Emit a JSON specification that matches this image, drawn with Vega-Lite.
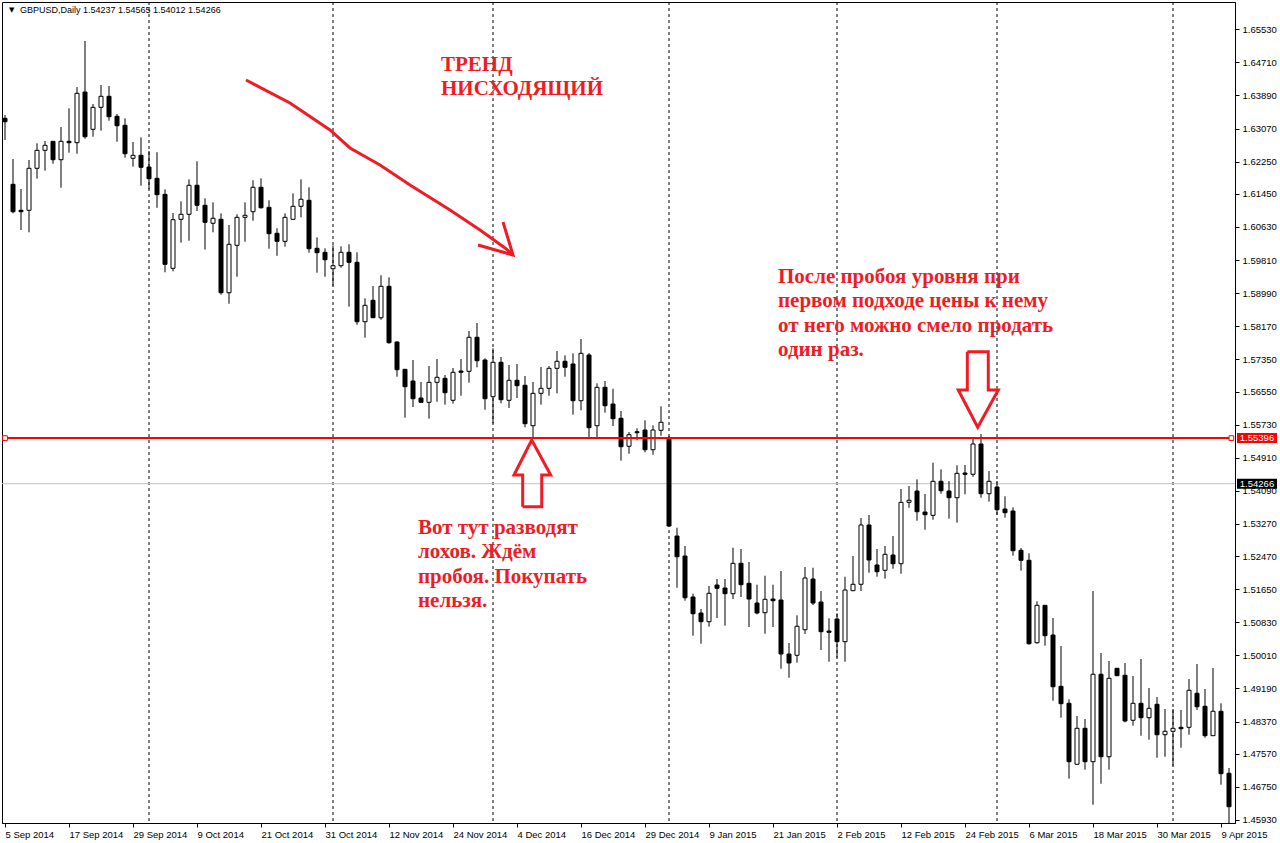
{
  "$schema": "https://vega.github.io/schema/vega-lite/v6.json",
  "autosize": "none",
  "width": 1233,
  "height": 821,
  "padding": {"left": 2, "top": 2, "right": 45, "bottom": 20},
  "background": "white",
  "config": {
    "view": {"stroke": "#000000", "strokeWidth": 1},
    "scale": {"continuousPadding": 0},
    "axis": {"grid": false, "title": null, "labelFont": "Liberation Sans", "labelFontSize": 9.5, "labelColor": "#000000", "tickColor": "#000000", "domainColor": "#000000", "labelOverlap": false, "labelBound": false, "labelFlush": false}
  },
  "datasets": {
    "candles": [
      {"n":0,"o":1.63323,"h":1.63405,"l":1.62786,"c":1.63239},
      {"n":1,"o":1.61687,"h":1.62315,"l":1.60968,"c":1.61008},
      {"n":2,"o":1.61043,"h":1.61571,"l":1.60555,"c":1.61008},
      {"n":3,"o":1.61043,"h":1.62290,"l":1.60497,"c":1.62084},
      {"n":4,"o":1.62084,"h":1.62704,"l":1.61826,"c":1.62530},
      {"n":5,"o":1.62530,"h":1.62761,"l":1.62025,"c":1.62654},
      {"n":6,"o":1.62753,"h":1.62761,"l":1.62198,"c":1.62297},
      {"n":7,"o":1.62297,"h":1.63108,"l":1.61603,"c":1.62753},
      {"n":8,"o":1.62753,"h":1.63571,"l":1.62471,"c":1.62719},
      {"n":9,"o":1.62719,"h":1.64099,"l":1.62446,"c":1.63943},
      {"n":10,"o":1.63975,"h":1.65240,"l":1.62818,"c":1.62867},
      {"n":11,"o":1.63051,"h":1.63678,"l":1.62867,"c":1.63596},
      {"n":12,"o":1.63596,"h":1.64149,"l":1.63016,"c":1.63869},
      {"n":13,"o":1.63869,"h":1.64124,"l":1.63264,"c":1.63363},
      {"n":14,"o":1.63373,"h":1.63430,"l":1.62743,"c":1.63140},
      {"n":15,"o":1.63150,"h":1.63323,"l":1.62347,"c":1.62446},
      {"n":16,"o":1.62332,"h":1.62736,"l":1.62124,"c":1.62406},
      {"n":17,"o":1.62406,"h":1.62852,"l":1.61653,"c":1.62109},
      {"n":18,"o":1.62116,"h":1.62513,"l":1.61563,"c":1.61826},
      {"n":19,"o":1.61836,"h":1.62481,"l":1.61107,"c":1.61430},
      {"n":20,"o":1.61439,"h":1.61563,"l":1.59506,"c":1.59704},
      {"n":21,"o":1.59605,"h":1.60976,"l":1.59531,"c":1.60810},
      {"n":22,"o":1.60820,"h":1.61266,"l":1.60240,"c":1.60944},
      {"n":23,"o":1.60944,"h":1.61811,"l":1.60289,"c":1.61663},
      {"n":24,"o":1.61663,"h":1.62258,"l":1.61026,"c":1.61167},
      {"n":25,"o":1.61167,"h":1.61340,"l":1.60071,"c":1.60745},
      {"n":26,"o":1.60721,"h":1.61241,"l":1.60497,"c":1.60845},
      {"n":27,"o":1.60820,"h":1.60968,"l":1.58951,"c":1.59000},
      {"n":28,"o":1.59000,"h":1.60678,"l":1.58728,"c":1.60200},
      {"n":29,"o":1.60175,"h":1.60944,"l":1.59397,"c":1.60869},
      {"n":30,"o":1.60869,"h":1.61241,"l":1.60264,"c":1.60919},
      {"n":31,"o":1.61008,"h":1.61787,"l":1.60785,"c":1.61613},
      {"n":32,"o":1.61613,"h":1.61836,"l":1.61083,"c":1.61107},
      {"n":33,"o":1.61117,"h":1.61291,"l":1.60091,"c":1.60463},
      {"n":34,"o":1.60473,"h":1.60597,"l":1.59917,"c":1.60274},
      {"n":35,"o":1.60274,"h":1.60968,"l":1.60141,"c":1.60869},
      {"n":36,"o":1.60820,"h":1.61464,"l":1.60820,"c":1.61142},
      {"n":37,"o":1.61142,"h":1.61811,"l":1.60869,"c":1.61316},
      {"n":38,"o":1.61291,"h":1.61613,"l":1.59992,"c":1.60091},
      {"n":39,"o":1.60101,"h":1.60374,"l":1.59496,"c":1.59992},
      {"n":40,"o":1.60002,"h":1.60101,"l":1.59397,"c":1.59818},
      {"n":41,"o":1.59595,"h":1.60175,"l":1.59174,"c":1.59670},
      {"n":42,"o":1.59670,"h":1.60150,"l":1.59620,"c":1.60002},
      {"n":43,"o":1.60002,"h":1.60200,"l":1.58653,"c":1.59754},
      {"n":44,"o":1.59754,"h":1.60002,"l":1.58207,"c":1.58281},
      {"n":45,"o":1.58281,"h":1.58861,"l":1.57885,"c":1.58688},
      {"n":46,"o":1.58812,"h":1.59166,"l":1.58380,"c":1.58380},
      {"n":47,"o":1.58380,"h":1.59432,"l":1.58331,"c":1.59159},
      {"n":48,"o":1.59159,"h":1.59382,"l":1.57736,"c":1.57761},
      {"n":49,"o":1.57778,"h":1.57795,"l":1.56918,"c":1.57091},
      {"n":50,"o":1.57101,"h":1.57109,"l":1.55902,"c":1.56670},
      {"n":51,"o":1.56811,"h":1.57332,"l":1.56167,"c":1.56373},
      {"n":52,"o":1.56390,"h":1.56787,"l":1.56283,"c":1.56283},
      {"n":53,"o":1.56283,"h":1.57183,"l":1.55877,"c":1.56779},
      {"n":54,"o":1.56779,"h":1.57357,"l":1.56298,"c":1.56903},
      {"n":55,"o":1.56878,"h":1.56960,"l":1.56224,"c":1.56521},
      {"n":56,"o":1.56333,"h":1.57134,"l":1.56249,"c":1.57027},
      {"n":57,"o":1.57059,"h":1.57357,"l":1.56447,"c":1.57027},
      {"n":58,"o":1.57052,"h":1.58051,"l":1.56769,"c":1.57895},
      {"n":59,"o":1.57895,"h":1.58249,"l":1.57151,"c":1.57315},
      {"n":60,"o":1.57332,"h":1.57374,"l":1.56100,"c":1.56373},
      {"n":61,"o":1.56422,"h":1.57622,"l":1.55763,"c":1.57275},
      {"n":62,"o":1.57275,"h":1.57406,"l":1.56259,"c":1.56348},
      {"n":63,"o":1.56333,"h":1.57208,"l":1.56142,"c":1.56829},
      {"n":64,"o":1.56829,"h":1.57233,"l":1.56390,"c":1.56695},
      {"n":65,"o":1.56705,"h":1.56935,"l":1.55664,"c":1.55753},
      {"n":66,"o":1.55703,"h":1.56787,"l":1.55406,"c":1.56506},
      {"n":67,"o":1.56506,"h":1.57159,"l":1.56224,"c":1.56630},
      {"n":68,"o":1.56630,"h":1.57183,"l":1.56447,"c":1.57126},
      {"n":69,"o":1.57126,"h":1.57555,"l":1.56506,"c":1.57300},
      {"n":70,"o":1.57300,"h":1.57448,"l":1.56918,"c":1.57151},
      {"n":71,"o":1.57233,"h":1.57498,"l":1.55976,"c":1.56323},
      {"n":72,"o":1.56323,"h":1.57852,"l":1.56085,"c":1.57498},
      {"n":73,"o":1.57456,"h":1.57505,"l":1.55406,"c":1.55654},
      {"n":74,"o":1.55703,"h":1.56754,"l":1.55406,"c":1.56655},
      {"n":75,"o":1.56655,"h":1.56811,"l":1.56026,"c":1.56199},
      {"n":76,"o":1.56241,"h":1.56620,"l":1.55696,"c":1.55877},
      {"n":77,"o":1.55887,"h":1.56068,"l":1.54836,"c":1.55183},
      {"n":78,"o":1.55193,"h":1.55547,"l":1.55009,"c":1.55480},
      {"n":79,"o":1.55554,"h":1.55639,"l":1.55341,"c":1.55530},
      {"n":80,"o":1.55597,"h":1.55837,"l":1.55044,"c":1.55108},
      {"n":81,"o":1.55108,"h":1.55713,"l":1.54984,"c":1.55597},
      {"n":82,"o":1.55589,"h":1.56184,"l":1.55455,"c":1.55788},
      {"n":83,"o":1.55391,"h":1.55448,"l":1.53204,"c":1.53217},
      {"n":84,"o":1.52969,"h":1.53175,"l":1.51687,"c":1.52456},
      {"n":85,"o":1.52473,"h":1.52721,"l":1.51365,"c":1.51439},
      {"n":86,"o":1.51457,"h":1.51539,"l":1.50498,"c":1.51043},
      {"n":87,"o":1.51060,"h":1.51159,"l":1.50299,"c":1.50845},
      {"n":88,"o":1.50845,"h":1.51730,"l":1.50721,"c":1.51549},
      {"n":89,"o":1.51754,"h":1.51903,"l":1.50936,"c":1.51673},
      {"n":90,"o":1.51680,"h":1.51903,"l":1.50746,"c":1.51539},
      {"n":91,"o":1.51539,"h":1.52679,"l":1.51407,"c":1.52292},
      {"n":92,"o":1.52292,"h":1.52647,"l":1.51457,"c":1.51762},
      {"n":93,"o":1.51796,"h":1.52324,"l":1.50713,"c":1.51407},
      {"n":94,"o":1.51308,"h":1.51762,"l":1.51028,"c":1.51060},
      {"n":95,"o":1.51068,"h":1.51985,"l":1.50547,"c":1.51400},
      {"n":96,"o":1.51407,"h":1.51762,"l":1.50713,"c":1.51365},
      {"n":97,"o":1.51382,"h":1.52101,"l":1.49679,"c":1.50044},
      {"n":98,"o":1.50044,"h":1.50317,"l":1.49456,"c":1.49821},
      {"n":99,"o":1.50012,"h":1.51003,"l":1.49828,"c":1.50731},
      {"n":100,"o":1.50646,"h":1.52201,"l":1.50540,"c":1.51928},
      {"n":101,"o":1.51903,"h":1.52183,"l":1.51259,"c":1.51308},
      {"n":102,"o":1.51333,"h":1.51606,"l":1.50143,"c":1.50597},
      {"n":103,"o":1.50614,"h":1.50929,"l":1.49853,"c":1.50582},
      {"n":104,"o":1.50911,"h":1.51053,"l":1.49952,"c":1.50349},
      {"n":105,"o":1.50349,"h":1.51960,"l":1.49853,"c":1.51630},
      {"n":106,"o":1.51613,"h":1.52473,"l":1.51606,"c":1.51772},
      {"n":107,"o":1.51772,"h":1.53415,"l":1.51606,"c":1.53242},
      {"n":108,"o":1.53242,"h":1.53490,"l":1.52059,"c":1.52374},
      {"n":109,"o":1.52250,"h":1.52647,"l":1.51960,"c":1.52084},
      {"n":110,"o":1.52119,"h":1.52721,"l":1.51910,"c":1.52515},
      {"n":111,"o":1.52498,"h":1.52969,"l":1.52158,"c":1.52282},
      {"n":112,"o":1.52282,"h":1.54134,"l":1.52034,"c":1.53804},
      {"n":113,"o":1.53804,"h":1.54208,"l":1.53670,"c":1.53854},
      {"n":114,"o":1.54084,"h":1.54374,"l":1.53348,"c":1.53571},
      {"n":115,"o":1.53564,"h":1.54010,"l":1.53125,"c":1.53497},
      {"n":116,"o":1.53482,"h":1.54786,"l":1.53373,"c":1.54325},
      {"n":117,"o":1.54325,"h":1.54622,"l":1.54018,"c":1.54092},
      {"n":118,"o":1.54084,"h":1.54332,"l":1.53398,"c":1.53918},
      {"n":119,"o":1.53918,"h":1.54722,"l":1.53299,"c":1.54523},
      {"n":120,"o":1.54531,"h":1.54729,"l":1.54003,"c":1.54499},
      {"n":121,"o":1.54499,"h":1.55391,"l":1.54439,"c":1.55250},
      {"n":122,"o":1.55250,"h":1.55497,"l":1.53918,"c":1.54018},
      {"n":123,"o":1.54018,"h":1.54580,"l":1.53820,"c":1.54325},
      {"n":124,"o":1.54184,"h":1.54332,"l":1.53497,"c":1.53621},
      {"n":125,"o":1.53638,"h":1.53953,"l":1.53423,"c":1.53547},
      {"n":126,"o":1.53589,"h":1.53680,"l":1.52481,"c":1.52605},
      {"n":127,"o":1.52615,"h":1.52672,"l":1.52109,"c":1.52367},
      {"n":128,"o":1.52367,"h":1.52540,"l":1.50275,"c":1.50299},
      {"n":129,"o":1.50324,"h":1.51350,"l":1.50299,"c":1.51251},
      {"n":130,"o":1.51251,"h":1.51251,"l":1.50250,"c":1.50498},
      {"n":131,"o":1.50515,"h":1.50936,"l":1.48886,"c":1.49233},
      {"n":132,"o":1.49243,"h":1.50242,"l":1.48465,"c":1.48812},
      {"n":133,"o":1.48822,"h":1.48921,"l":1.46953,"c":1.47374},
      {"n":134,"o":1.47310,"h":1.48507,"l":1.47310,"c":1.48202},
      {"n":135,"o":1.48202,"h":1.48433,"l":1.47176,"c":1.47374},
      {"n":136,"o":1.47374,"h":1.51606,"l":1.46308,"c":1.49541},
      {"n":137,"o":1.49541,"h":1.50069,"l":1.46829,"c":1.47498},
      {"n":138,"o":1.47498,"h":1.49871,"l":1.47176,"c":1.49442},
      {"n":139,"o":1.49690,"h":1.49697,"l":1.49499,"c":1.49506},
      {"n":140,"o":1.49516,"h":1.49821,"l":1.48351,"c":1.48383},
      {"n":141,"o":1.48401,"h":1.49499,"l":1.48267,"c":1.48822},
      {"n":142,"o":1.48822,"h":1.49920,"l":1.48019,"c":1.48465},
      {"n":143,"o":1.48465,"h":1.49201,"l":1.47920,"c":1.48698},
      {"n":144,"o":1.48797,"h":1.48978,"l":1.47473,"c":1.48043},
      {"n":145,"o":1.48043,"h":1.48680,"l":1.47498,"c":1.48128},
      {"n":146,"o":1.48128,"h":1.48680,"l":1.47275,"c":1.48202},
      {"n":147,"o":1.48227,"h":1.48656,"l":1.47721,"c":1.48192},
      {"n":148,"o":1.48227,"h":1.49424,"l":1.48043,"c":1.49144},
      {"n":149,"o":1.49070,"h":1.49796,"l":1.48656,"c":1.48738},
      {"n":150,"o":1.48748,"h":1.49176,"l":1.47969,"c":1.48019},
      {"n":151,"o":1.48019,"h":1.49697,"l":1.48019,"c":1.48624},
      {"n":152,"o":1.48624,"h":1.48822,"l":1.46804,"c":1.47077},
      {"n":153,"o":1.47087,"h":1.47218,"l":1.45800,"c":1.46259}
    ],
    "seps": [{"n":18},{"n":41},{"n":61},{"n":83},{"n":104},{"n":124},{"n":146}],
    "levels": [
      {"kind":"bid","p":1.54266,"label":"1.54266"},
      {"kind":"level","p":1.55396,"label":"1.55396"}
    ],
    "drawings": [
      {"g":"trend","k":0,"n":30.125,"p":1.64273},
      {"g":"trend","k":1,"n":35.625,"p":1.63703},
      {"g":"trend","k":2,"n":40.625,"p":1.63034},
      {"g":"trend","k":3,"n":43.125,"p":1.62588},
      {"g":"trend","k":4,"n":46.875,"p":1.62166},
      {"g":"trend","k":5,"n":50.625,"p":1.61670},
      {"g":"trend","k":6,"n":55.625,"p":1.61051},
      {"g":"trend","k":7,"n":59.375,"p":1.60555},
      {"g":"trend","k":8,"n":62.5,"p":1.60109},
      {"g":"trend","k":9,"n":63.5,"p":1.59935},
      {"g":"head","k":0,"n":62.25,"p":1.60753},
      {"g":"head","k":1,"n":63.5,"p":1.59935},
      {"g":"head","k":2,"n":59.125,"p":1.60183},
      {"g":"up","k":0,"n":64.71,"p":1.53696},
      {"g":"up","k":1,"n":67.09,"p":1.53696},
      {"g":"up","k":2,"n":67.09,"p":1.54481},
      {"g":"up","k":3,"n":68.21,"p":1.54481},
      {"g":"up","k":4,"n":65.84,"p":1.55349},
      {"g":"up","k":5,"n":63.625,"p":1.54481},
      {"g":"up","k":6,"n":64.71,"p":1.54481},
      {"g":"up","k":7,"n":64.71,"p":1.53696},
      {"g":"down","k":0,"n":120.29,"p":1.57538},
      {"g":"down","k":1,"n":122.91,"p":1.57538},
      {"g":"down","k":2,"n":122.91,"p":1.56589},
      {"g":"down","k":3,"n":124.16,"p":1.56589},
      {"g":"down","k":4,"n":121.59,"p":1.55664},
      {"g":"down","k":5,"n":119.16,"p":1.56589},
      {"g":"down","k":6,"n":120.29,"p":1.56589},
      {"g":"down","k":7,"n":120.29,"p":1.57538}
    ],
    "notes": [
      {"n":54.5,"p":1.64496,"t":"ТРЕНД"},
      {"n":54.5,"p":1.63901,"t":"НИСХОДЯЩИЙ"},
      {"n":96.625,"p":1.59241,"t":"После пробоя уровня при"},
      {"n":96.625,"p":1.58646,"t":"первом подходе цены к нему"},
      {"n":96.625,"p":1.58026,"t":"от него можно смело продать"},
      {"n":96.625,"p":1.57431,"t":"один раз."},
      {"n":51.625,"p":1.53019,"t":"Вот тут разводят"},
      {"n":51.625,"p":1.52424,"t":"лохов. Ждём"},
      {"n":51.625,"p":1.51804,"t":"пробоя. Покупать"},
      {"n":51.625,"p":1.51209,"t":"нельзя."}
    ],
    "header": [{"t":"GBPUSD,Daily  1.54237 1.54565 1.54012 1.54266"}]
  },
  "encoding": {
    "x": {"type": "quantitative",
      "scale": {"domain": [-0.375, 153.75], "zero": false, "nice": false, "padding": 0},
      "axis": {"orient": "bottom", "values": [0,8,16,24,32,40,48,56,64,72,80,88,96,104,112,120,128,136,144,152],
        "labelExpr": "['5 Sep 2014','17 Sep 2014','29 Sep 2014','9 Oct 2014','21 Oct 2014','31 Oct 2014','12 Nov 2014','24 Nov 2014','4 Dec 2014','16 Dec 2014','29 Dec 2014','9 Jan 2015','21 Jan 2015','2 Feb 2015','12 Feb 2015','24 Feb 2015','6 Mar 2015','18 Mar 2015','30 Mar 2015','9 Apr 2015'][round(datum.value/8)]",
        "labelAlign": "left", "labelPadding": 2, "tickSize": 4, "labelOverlap": false, "labelFlush": false, "labelBound": false}
    },
    "y": {"type": "quantitative",
      "scale": {"domain": [1.458547, 1.662067], "zero": false, "nice": false, "padding": 0},
      "axis": {"orient": "right", "values": [1.6553,1.6471,1.6389,1.6307,1.6225,1.6145,1.6063,1.5981,1.5899,1.5817,1.5735,1.5655,1.5573,1.5491,1.5409,1.5327,1.5247,1.5165,1.5083,1.5001,1.4919,1.4837,1.4757,1.4675,1.4593],
        "format": ".5f", "tickSize": 4, "labelPadding": 3, "labelOverlap": false, "labelBound": false}
    }
  },
  "layer": [
    {
      "data": {"name": "seps"},
      "mark": {"type": "rule", "color": "#000000", "strokeWidth": 1, "strokeDash": [3, 3]},
      "encoding": {"x": {"field": "n"}, "y": null}
    },
    {
      "data": {"name": "levels"},
      "transform": [{"filter": "datum.kind === 'bid'"}],
      "mark": {"type": "rule", "color": "#c0c0c0", "strokeWidth": 1},
      "encoding": {"y": {"field": "p"}, "x": null}
    },
    {
      "data": {"name": "candles"},
      "mark": {"type": "rule", "color": "#000000", "strokeWidth": 1, "clip": true},
      "encoding": {
        "x": {"field": "n"},
        "y": {"field": "l"},
        "y2": {"field": "h"}
      }
    },
    {
      "data": {"name": "candles"},
      "mark": {"type": "bar", "size": 4, "stroke": "#000000", "strokeWidth": 1, "clip": true},
      "encoding": {
        "x": {"field": "n"},
        "y": {"field": "o"},
        "y2": {"field": "c"},
        "fill": {"condition": {"test": "datum.c < datum.o", "value": "#000000"}, "value": "#ffffff"}
      }
    },
    {
      "data": {"name": "levels"},
      "transform": [{"filter": "datum.kind === 'level'"}],
      "mark": {"type": "rule", "color": "#ff0000", "strokeWidth": 2},
      "encoding": {"y": {"field": "p"}, "x": {"datum": 0}, "x2": {"datum": 153.3}}
    },
    {
      "data": {"name": "levels"},
      "transform": [{"filter": "datum.kind === 'level'"}],
      "mark": {"type": "point", "shape": "square", "size": 22, "filled": true, "fill": "#ffffff", "stroke": "#ff0000", "strokeWidth": 1, "opacity": 1},
      "encoding": {"y": {"field": "p"}, "x": {"datum": 0}}
    },
    {
      "data": {"name": "levels"},
      "transform": [{"filter": "datum.kind === 'level'"}],
      "mark": {"type": "point", "shape": "square", "size": 22, "filled": true, "fill": "#ffffff", "stroke": "#ff0000", "strokeWidth": 1, "opacity": 1},
      "encoding": {"y": {"field": "p"}, "x": {"datum": 153.3}}
    },
    {
      "data": {"name": "drawings"},
      "mark": {"type": "line", "color": "#ee1c24", "strokeWidth": 3, "strokeJoin": "miter", "strokeCap": "butt"},
      "encoding": {
        "x": {"field": "n"},
        "y": {"field": "p"},
        "detail": {"field": "g"},
        "order": {"field": "k", "type": "quantitative"}
      }
    },
    {
      "data": {"name": "notes"},
      "mark": {"type": "text", "align": "left", "baseline": "alphabetic", "font": "Liberation Serif", "fontWeight": "bold", "fontSize": 21, "color": "#ee1c24"},
      "encoding": {
        "x": {"field": "n"},
        "y": {"field": "p"},
        "text": {"field": "t"}
      }
    },
    {
      "data": {"name": "levels"},
      "mark": {"type": "rule", "strokeWidth": 10, "strokeCap": "butt"},
      "encoding": {
        "y": {"field": "p"},
        "x": {"datum": 154},
        "x2": {"datum": 159},
        "color": {"field": "kind", "type": "nominal", "scale": {"domain": ["bid", "level"], "range": ["#000000", "#ff0000"]}, "legend": null}
      }
    },
    {
      "data": {"name": "levels"},
      "mark": {"type": "text", "align": "center", "baseline": "middle", "font": "Liberation Sans", "fontSize": 9.5, "color": "#ffffff"},
      "encoding": {
        "y": {"field": "p"},
        "x": {"datum": 156.5},
        "text": {"field": "label"}
      }
    },
    {
      "data": {"name": "header"},
      "mark": {"type": "text", "align": "left", "baseline": "alphabetic", "font": "Liberation Sans", "fontSize": 9, "color": "#000000"},
      "encoding": {
        "x": {"datum": 1.875},
        "y": {"datum": 1.65934},
        "text": {"field": "t"}
      }
    },
    {
      "data": {"name": "header"},
      "mark": {"type": "text", "align": "center", "baseline": "middle", "font": "DejaVu Sans", "fontSize": 7, "color": "#000000", "text": "▼"},
      "encoding": {
        "x": {"datum": 0.84},
        "y": {"datum": 1.66008}
      }
    }
  ]
}
